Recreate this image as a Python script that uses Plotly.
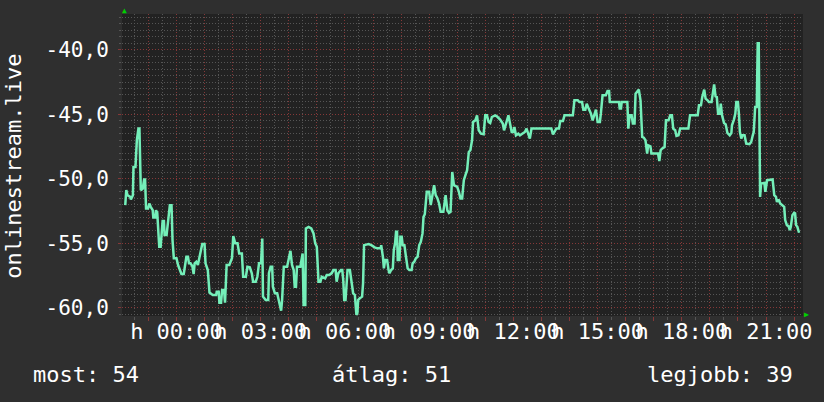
import plotly.graph_objects as go

# time in hours relative to 00:00 (negative = previous evening)
hours = [
    -1.825, -1.789, -1.744, -1.648, -1.624, -1.553, -1.532, -1.461, -1.412, -1.355,
    -1.320, -1.271, -1.200, -1.154, -1.119, -1.084, -1.013, -0.967, -0.918, -0.847,
    -0.826, -0.755, -0.731, -0.685, -0.614, -0.565, -0.494, -0.448, -0.424, -0.353,
    -0.297, -0.237, -0.177, -0.141, -0.095, 0.000, 0.056, 0.116, 0.176, 0.258,
    0.293, 0.353, 0.409, 0.445, 0.494, 0.565, 0.611, 0.646, 0.706, 0.762,
    0.822, 0.918, 0.999, 1.034, 1.115, 1.175, 1.292, 1.412, 1.433, 1.504,
    1.528, 1.588, 1.624, 1.694, 1.729, 1.786, 1.881, 1.976, 2.022, 2.093,
    2.174, 2.234, 2.329, 2.375, 2.471, 2.527, 2.612, 2.682, 2.728, 2.824,
    2.880, 2.940, 3.011, 3.056, 3.081, 3.176, 3.268, 3.293, 3.353, 3.409,
    3.434, 3.505, 3.586, 3.646, 3.727, 3.762, 3.822, 3.939, 3.999, 4.059,
    4.115, 4.175, 4.211, 4.256, 4.292, 4.412, 4.493, 4.528, 4.588, 4.609,
    4.705, 4.800, 4.881, 4.941, 4.998, 5.058, 5.128, 5.174, 5.294, 5.351,
    5.435, 5.527, 5.587, 5.668, 5.704, 5.764, 5.859, 5.905, 5.940, 5.975,
    6.021, 6.092, 6.176, 6.233, 6.293, 6.353, 6.409, 6.445, 6.469, 6.529,
    6.611, 6.646, 6.681, 6.847, 6.939, 7.059, 7.151, 7.271, 7.292, 7.352,
    7.387, 7.433, 7.503, 7.553, 7.588, 7.645, 7.705, 7.740, 7.786, 7.821,
    7.856, 7.881, 7.941, 7.976, 8.022, 8.058, 8.118, 8.174, 8.234, 8.294,
    8.375, 8.411, 8.471, 8.527, 8.587, 8.647, 8.703, 8.763, 8.799, 8.845,
    8.915, 9.000, 9.056, 9.116, 9.176, 9.233, 9.293, 9.353, 9.409, 9.505,
    9.586, 9.646, 9.706, 9.762, 9.822, 9.882, 9.999, 10.059, 10.115, 10.175,
    10.235, 10.292, 10.352, 10.412, 10.468, 10.528, 10.563, 10.645, 10.705, 10.765,
    10.846, 10.941, 10.998, 11.058, 11.118, 11.174, 11.234, 11.351, 11.411, 11.527,
    11.622, 11.668, 11.739, 11.823, 11.880, 11.940, 12.000, 12.035, 12.092, 12.176,
    12.233, 12.353, 12.409, 12.469, 12.529, 12.586, 12.646, 13.352, 13.412, 13.468,
    13.528, 13.623, 13.669, 13.765, 13.821, 14.118, 14.174, 14.294, 14.351, 14.446,
    14.492, 14.562, 14.612, 14.682, 14.763, 14.823, 14.880, 14.940, 15.000, 15.081,
    15.116, 15.176, 15.293, 15.353, 15.409, 15.434, 15.762, 15.787, 15.833, 15.858,
    16.059, 16.094, 16.140, 16.211, 16.256, 16.316, 16.352, 16.412, 16.468, 16.528,
    16.588, 16.645, 16.705, 16.765, 16.800, 16.881, 16.916, 17.153, 17.199, 17.245,
    17.294, 17.386, 17.435, 17.527, 17.587, 17.647, 17.693, 17.763, 17.809, 17.880,
    17.940, 18.233, 18.293, 18.565, 18.611, 18.681, 18.727, 18.798, 18.847, 18.918,
    18.963, 19.059, 19.115, 19.151, 19.200, 19.246, 19.292, 19.352, 19.387, 19.433,
    19.503, 19.563, 19.623, 19.705, 19.765, 19.786, 19.856, 19.906, 19.941, 19.998,
    20.033, 20.068, 20.118, 20.153, 20.234, 20.294, 20.411, 20.471, 20.527, 20.562,
    20.612, 20.668, 20.703, 20.739, 20.788, 20.823, 20.940, 20.975, 21.035, 21.233,
    21.293, 21.353, 21.388, 21.445, 21.505, 21.586, 21.646, 21.681, 21.741, 21.798,
    21.847, 21.882, 21.939, 21.999, 22.034, 22.070, 22.115, 22.175,
]

values = [
    -52.04, -50.88, -51.27, -51.40, -51.60, -51.27, -49.08, -49.08, -47.01, -46.11,
    -46.11, -50.88, -50.75, -50.05, -50.05, -52.30, -52.30, -51.91, -52.17, -52.43,
    -52.99, -52.99, -52.43, -52.64, -55.27, -55.27, -53.26, -53.26, -54.36, -54.36,
    -53.26, -52.04, -52.04, -54.75, -56.16, -56.16, -56.68, -57.07, -57.38, -57.38,
    -56.94, -56.04, -56.04, -56.55, -56.55, -56.76, -57.38, -56.55, -56.43, -56.68,
    -56.04, -55.06, -55.06, -56.55, -57.07, -58.82, -59.00, -59.00, -58.75, -58.75,
    -59.60, -59.60, -58.62, -58.62, -59.60, -56.68, -56.68, -56.16, -54.44, -55.00,
    -55.00, -55.78, -55.78, -57.59, -57.59, -56.81, -56.86, -57.32, -57.97, -57.97,
    -57.59, -56.55, -56.55, -54.62, -59.13, -59.39, -59.39, -57.32, -56.81, -56.81,
    -58.36, -58.87, -58.87, -59.39, -60.22, -59.39, -56.81, -56.81, -56.30, -55.58,
    -56.68, -57.07, -58.36, -58.36, -56.81, -56.81, -55.78, -59.78, -59.78, -53.84,
    -53.72, -53.84, -54.23, -55.00, -55.27, -57.97, -57.97, -57.59, -57.71, -57.46,
    -57.46, -57.32, -57.07, -57.07, -57.97, -57.32, -57.07, -57.07, -57.84, -59.39,
    -59.39, -57.07, -57.07, -57.84, -58.87, -59.00, -60.55, -60.39, -59.39, -59.26,
    -59.13, -58.10, -55.14, -55.06, -55.14, -55.31, -55.39, -55.39, -55.14, -56.04,
    -56.94, -56.30, -56.30, -57.07, -57.32, -57.07, -56.94, -55.52, -55.00, -54.11,
    -54.11, -56.30, -56.30, -54.49, -54.49, -55.14, -55.14, -56.04, -56.94, -57.07,
    -57.07, -56.55, -56.43, -56.16, -56.04, -55.14, -54.88, -54.23, -52.95, -52.74,
    -51.01, -51.01, -52.04, -51.27, -50.49, -51.27, -51.50, -51.91, -52.56, -52.56,
    -51.27, -52.43, -52.64, -52.56, -49.47, -50.49, -50.63, -51.01, -51.52, -51.52,
    -50.11, -49.72, -49.33, -47.92, -47.79, -47.01, -45.60, -45.47, -45.08, -46.24,
    -46.50, -46.55, -45.08, -45.08, -45.60, -45.68, -45.21, -45.08, -45.16, -45.41,
    -45.72, -46.24, -45.72, -45.08, -45.72, -46.37, -46.37, -45.99, -46.63, -46.50,
    -46.63, -46.45, -46.37, -46.11, -46.45, -46.88, -46.11, -46.11, -46.55, -46.37,
    -46.11, -46.11, -45.52, -45.52, -45.08, -45.08, -43.92, -43.92, -44.05, -44.05,
    -44.64, -44.64, -44.18, -44.56, -44.95, -45.47, -45.08, -44.64, -45.60, -45.60,
    -44.95, -43.53, -43.53, -43.20, -43.20, -44.05, -44.05, -44.56, -44.56, -44.05,
    -44.05, -46.11, -45.08, -45.08, -45.72, -45.72, -43.40, -43.28, -43.09, -43.92,
    -46.76, -46.81, -47.01, -48.04, -47.40, -47.48, -48.04, -48.04, -48.62, -47.79,
    -47.66, -47.53, -45.47, -45.47, -45.08, -45.08, -46.11, -46.24, -46.68, -46.63,
    -46.11, -46.11, -45.08, -45.08, -44.31, -44.31, -43.67, -43.09, -43.79, -43.92,
    -44.05, -44.05, -43.40, -42.68, -43.61, -43.67, -44.95, -44.95, -44.18, -45.08,
    -45.68, -45.78, -46.45, -46.63, -46.45, -45.85, -45.41, -44.95, -44.05, -44.05,
    -44.95, -46.37, -46.88, -46.63, -46.63, -47.27, -47.32, -47.15, -46.63, -46.37,
    -44.44, -44.44, -39.49, -39.49, -51.40, -50.36, -50.32, -51.01, -50.11, -50.05,
    -51.27, -51.40, -51.79, -51.60, -51.91, -52.04, -52.17, -53.20, -53.59, -53.67,
    -53.98, -53.72, -52.82, -52.64, -52.68, -53.59, -53.72, -54.18,
]

y_tick_vals = [-60, -55, -50, -45, -40]
y_tick_text = ["-60,0", "-55,0", "-50,0", "-45,0", "-40,0"]
x_tick_vals = list(range(-1, 23))
x_label_hours = [0, 3, 6, 9, 12, 15, 18, 21]
x_tick_text = [("h %02d:00" % h) if h in x_label_hours else "" for h in x_tick_vals]

y_title = "onlinestream.live"
legend_items = [("most: 54", -0.134), ("átlag: 51", 0.306), ("legjobb: 39", 0.768)]

FONT = "DejaVu Sans Mono"
WHITE = "#ffffff"
MINOR = "#555555"
MAJOR = "#853838"
FS = 22

fig = go.Figure()
fig.add_trace(go.Scatter(
    x=hours, y=values, mode="lines",
    line=dict(color="#74efb9", width=2.5),
    hoverinfo="skip", showlegend=False,
))

fig.update_layout(
    width=824, height=402, autosize=False,
    margin=dict(l=122, r=15, t=14, b=86, pad=0),
    paper_bgcolor="#2f2f2f", plot_bgcolor="#222222",
    font=dict(family=FONT, size=FS, color=WHITE),
    showlegend=False,
)

fig.update_xaxes(
    range=[-1.941, 22.316], tickmode="array", tickvals=x_tick_vals, ticktext=x_tick_text,
    tickangle=0, showgrid=True, gridcolor=MAJOR, griddash="1px,2px", gridwidth=1,
    zeroline=False, showline=False, ticks="outside", ticklen=4, tickcolor=MAJOR,
    ticklabelstandoff=-8,
    tickfont=dict(family=FONT, size=FS, color=WHITE),
    minor=dict(tickmode="linear", tick0=0, dtick=0.5, showgrid=True, gridcolor=MINOR,
               griddash="1px,2px", ticks="outside", ticklen=3, tickcolor=MINOR),
)
fig.update_yaxes(
    range=[-60.63, -37.23], tickmode="array", tickvals=y_tick_vals, ticktext=y_tick_text,
    showgrid=True, gridcolor=MAJOR, griddash="1px,2px", gridwidth=1,
    zeroline=False, showline=False, ticks="outside", ticklen=3, tickcolor=MAJOR,
    ticklabelstandoff=5,
    tickfont=dict(family=FONT, size=21, color=WHITE),
    minor=dict(tickmode="linear", tick0=0, dtick=0.5, showgrid=True, gridcolor=MINOR,
               griddash="1px,2px", ticks="outside", ticklen=2, tickcolor=MINOR),
)

annotations = [
    dict(text=y_title, textangle=-90, xref="paper", yref="paper", x=-0.159, y=0.497,
         xanchor="center", yanchor="middle", showarrow=False,
         font=dict(family=FONT, size=FS, color=WHITE)),
    dict(text="▲", xref="paper", yref="paper", x=0.0044, y=1.013, xanchor="center",
         yanchor="middle", showarrow=False, font=dict(size=8, color="#00d000")),
    dict(text="▶", xref="paper", yref="paper", x=1.0058, y=0.0066, xanchor="center",
         yanchor="middle", showarrow=False, font=dict(size=8, color="#00d000")),
]
for txt, xp in legend_items:
    annotations.append(dict(text=txt, xref="paper", yref="paper", x=xp, y=-0.193,
                            xanchor="left", yanchor="middle", showarrow=False,
                            font=dict(family=FONT, size=FS, color=WHITE)))
fig.update_layout(annotations=annotations)

fig.write_html("out.html", config={"displayModeBar": False},
               post_script="document.body.style.margin='0';")
